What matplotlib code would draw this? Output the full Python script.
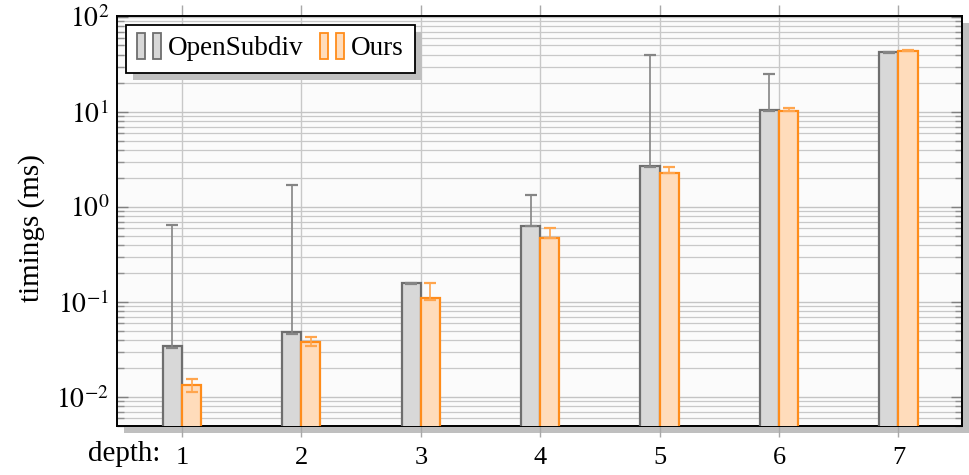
import matplotlib
matplotlib.use("Agg")
import matplotlib.pyplot as plt
import numpy as np
from matplotlib.patches import Rectangle
from matplotlib.legend_handler import HandlerBase
from matplotlib.ticker import LogLocator, NullFormatter

depths = [1, 2, 3, 4, 5, 6, 7]
osd_mean = [0.0336, 0.0472, 0.156, 0.637, 2.70, 10.5, 42.5]
osd_min = [0.0330, 0.0457, 0.153, 0.625, 2.65, 10.3, 42.0]
osd_max = [0.653, 1.72, 0.160, 1.34, 39.8, 24.8, 43.0]
ours_mean = [0.01244, 0.0370, 0.108, 0.476, 2.30, 10.25, 43.5]
ours_min = [0.0113, 0.0347, 0.104, 0.468, 2.26, 10.1, 43.2]
ours_max = [0.0155, 0.0428, 0.157, 0.597, 2.64, 10.9, 44.3]
series_names = ["OpenSubdiv", "Ours"]
ytick_vals = [1e-2, 1e-1, 1e0, 1e1, 1e2]
ytick_labels = [r"$10^{-2}$", r"$10^{-1}$", r"$10^{0}$", r"$10^{1}$", r"$10^{2}$"]

plt.rcParams["font.family"] = ["Liberation Serif", "DejaVu Serif"]
plt.rcParams["mathtext.fontset"] = "stix"

W, H = 970, 475
fig = plt.figure(figsize=(W / 100, H / 100), dpi=100)
L, R, B, T = 117.5 / W, 961.7 / W, 1 - 425.7 / H, 1 - 16 / H
# axes shadow
fig.patches.append(Rectangle((L + 7 / W, B - 7 / H), R - L, T - B, transform=fig.transFigure,
                             facecolor="#bfbfbf", edgecolor="none", zorder=0))
ax = fig.add_axes([L, B, R - L, T - B], zorder=1)
ax.set_facecolor("#fbfbfb")

x = np.array(depths, dtype=float)
w = 0.16
osd_c, osd_e = "#d8d8d8", "#6e6e6e"
our_c, our_e = "#ffdcbb", "#ff8c1a"
ax.bar(x - w / 2, osd_mean, width=w, facecolor=osd_c, edgecolor=osd_e, linewidth=1.6, zorder=3,
       bottom=0.001)
ax.bar(x + w / 2, ours_mean, width=w, facecolor=our_c, edgecolor=our_e, linewidth=1.6, zorder=3,
       bottom=0.001)
om = np.array(osd_mean); um = np.array(ours_mean)
ax.errorbar(x - w / 2, om, yerr=[om - np.array(osd_min), np.array(osd_max) - om], fmt="none",
            ecolor="#858585", elinewidth=1.2, capsize=4, capthick=1.6, zorder=4)
ax.errorbar(x + w / 2, um, yerr=[um - np.array(ours_min), np.array(ours_max) - um], fmt="none",
            ecolor="#ffa54d", elinewidth=1.2, capsize=4, capthick=1.6, zorder=4)

ax.set_yscale("log")
ax.set_ylim(0.005, 102)
ax.set_xlim(0.46, 7.53)
ax.set_yticks(ytick_vals)
ax.set_yticklabels(ytick_labels, fontsize=20)
ax.yaxis.set_minor_locator(LogLocator(base=10, subs=np.arange(2, 10), numticks=20))
ax.yaxis.set_minor_formatter(NullFormatter())
ax.set_xticks(depths)
ax.set_xticklabels([str(d) for d in depths], fontsize=19)

ax.grid(True, which="major", axis="y", color="#c4c4c4", linewidth=1.0, zorder=0)
ax.grid(True, which="minor", axis="y", color="#c8c8c8", linewidth=0.9, zorder=0)
ax.grid(True, which="major", axis="x", color="#c8c8c8", linewidth=1.0, zorder=0)
ax.set_axisbelow(True)

ax.tick_params(axis="x", direction="out", length=8, width=1, color="#a8a8a8", top=True,
               pad=7)
ax.tick_params(axis="y", which="major", direction="in", length=8, width=1, color="#808080",
               right=True, pad=6)
ax.tick_params(axis="y", which="minor", direction="in", length=5, width=1, color="#909090",
               right=True)
for s in ax.spines.values():
    s.set_linewidth(1.4)
    s.set_color("black")

fig.text(32 / W, (B + T) / 2 - 0.015, "timings (ms)", rotation=90, ha="center", va="center",
         fontsize=21)
fig.text(160 / W, 1 - 454 / H, "depth:", ha="right", va="center", fontsize=21)


class TwoBars(HandlerBase):
    def __init__(self, fc, ec):
        super().__init__()
        self.fc, self.ec = fc, ec

    def create_artists(self, legend, orig, xd, yd, width, height, fontsize, trans):
        bw = width * 0.34
        arts = []
        for x0 in (0.0, width * 0.66):
            r = Rectangle((xd + x0, yd - height * 0.2), bw, height * 1.4, facecolor=self.fc,
                          edgecolor=self.ec, linewidth=1.3, transform=trans)
            arts.append(r)
        return arts


h1 = Rectangle((0, 0), 1, 1)
h2 = Rectangle((0, 0), 1, 1)
leg = ax.legend([h1, h2], series_names, loc="upper left", bbox_to_anchor=(0.0095, 0.978),
                ncol=2, fontsize=19.5, frameon=True, fancybox=False, shadow=False,
                handler_map={h1: TwoBars(osd_c, osd_e), h2: TwoBars(our_c, our_e)},
                handlelength=0.9, handletextpad=0.25, columnspacing=0.6, borderpad=0.42,
                borderaxespad=0.0, edgecolor="black", framealpha=1)
leg.get_frame().set_linewidth(1.3)
leg.set_zorder(10)

fig.canvas.draw()
bb = leg.get_window_extent().transformed(fig.transFigure.inverted())
ax.add_patch(Rectangle((bb.x0 + 7 / W, bb.y0 - 7 / H), bb.width, bb.height,
                       transform=fig.transFigure, facecolor="#bfbfbf", edgecolor="none",
                       zorder=9, clip_on=False))

fig.savefig("out.png", dpi=100)
